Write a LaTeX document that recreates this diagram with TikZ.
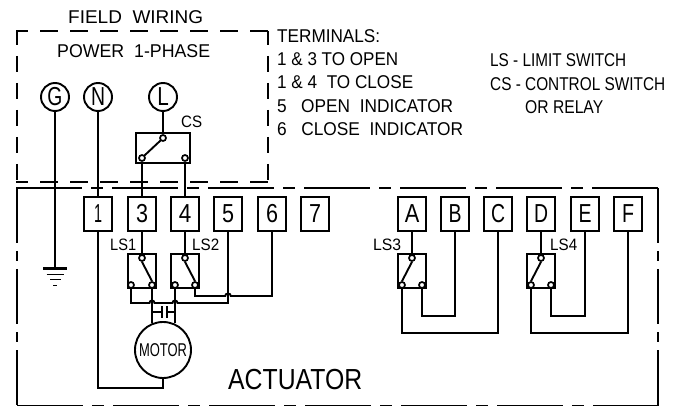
\documentclass[tikz,border=0pt]{standalone}
\usepackage{fontspec}
\usepackage{graphicx}
\setmainfont{Liberation Sans}
\newcommand{\fw}[2]{\resizebox{#1pt}{\height}{#2}}
\tikzset{
  wire/.style={line width=1.9pt,line cap=butt,line join=miter},
  txt/.style={inner sep=0pt,anchor=base west,font=\fontsize{18.5}{20}\selectfont},
  lbl/.style={inner sep=0pt,anchor=base west,font=\fontsize{16.5}{18}\selectfont},
  term/.style={draw,line width=1.9pt,minimum width=28pt,minimum height=34pt,inner sep=0pt,font=\fontsize{26}{27}\selectfont},
  swbox/.style={draw,line width=1.9pt,minimum width=28pt,minimum height=34pt,inner sep=0pt},
  bigc/.style={draw,circle,line width=1.9pt,minimum size=28pt,inner sep=0pt,font=\fontsize{26}{27}\selectfont},
  contact/.style={draw,circle,line width=1.7pt,minimum size=6pt,inner sep=0pt,fill=white},
  fbh/.style={line width=1.9pt,dash pattern=on 18pt off 12pt,dash phase=6pt},
  fbv/.style={line width=1.9pt,dash pattern=on 16pt off 11pt,dash phase=2pt},
  abh/.style={line width=1.8pt,dash pattern=on 66pt off 9pt on 12pt off 9pt},
  abv/.style={line width=1.8pt,dash pattern=on 55pt off 8pt on 10pt off 8pt},
}
\begin{document}
\begin{tikzpicture}[x=1pt,y=-1pt]
\useasboundingbox (0,0) rectangle (683,406);
% dashed enclosures
\draw[fbh] (16,31) -- (269,31);
\draw[fbh] (16,182) -- (269,182);
\draw[fbv] (17,31) -- (17,183);
\draw[fbv] (268,31) -- (268,183);
\draw[abh] (16,188) -- (659,188);
\draw[abh] (17,405.5) -- (659,405.5);
\draw[abv] (17,188) -- (17,406);
\draw[abv] (658,188) -- (658,406);
% texts
\node[txt] (tfield) at (68,24) {\fw{135}{FIELD\ \ WIRING}};
\node[txt] (tpower) at (57,57.7) {\fw{153}{POWER\ \ 1-PHASE}};
\node[txt] (tt0) at (277,42.7) {\fw{103}{TERMINALS:}};
\node[txt] (tt1) at (277,66) {\fw{121}{1 \& 3 TO OPEN}};
\node[txt] (tt2) at (277,89) {\fw{136}{1 \& 4\ \ TO CLOSE}};
\node[txt] (tt3) at (277,113) {\fw{176}{5\ \ \ OPEN\ \ INDICATOR}};
\node[txt] (tt4) at (277,136) {\fw{186}{6\ \ \ CLOSE\ \ INDICATOR}};
\node[txt] (tl1) at (490,67) {\fw{136}{LS - LIMIT SWITCH}};
\node[txt] (tl2) at (490,91) {\fw{175}{CS - CONTROL SWITCH}};
\node[txt] (tl3) at (525,114) {\fw{78}{OR RELAY}};
\node[txt,font=\fontsize{29}{31}\selectfont] (tact) at (228,389) {\fw{134}{ACTUATOR}};
\node[lbl] (lcs) at (181,128) {\fw{21}{CS}};
\node[lbl] (l1) at (110,251) {\fw{26}{LS1}};
\node[lbl] (l2) at (192,251) {\fw{27}{LS2}};
\node[lbl] (l3) at (373,251) {\fw{28}{LS3}};
\node[lbl] (l4) at (550,251) {\fw{27}{LS4}};
% power circles
\node[bigc] (G) at (55,97) {\fw{15}{G}};
\node[bigc] (N) at (98,97) {\fw{14}{N}};
\node[bigc] (L) at (163,97) {\fw{11.5}{L}};
% terminals
\foreach \n/\x/\t/\w in {t1/98/1/8,t3/142/3/12,t4/185/4/12.5,t5/228/5/12,t6/272/6/12,t7/315/7/12,
  tA/412/A/14.5,tB/455/B/13,tC/498/C/14,tD/541/D/14,tE/585/E/13,tF/628/F/12}
  \node[term] (\n) at (\x,214) {\fw{\w}{\t}};
% switch boxes
\node[swbox,minimum width=54pt,minimum height=30pt] (cs) at (163,148) {};
\node[swbox] (ls1) at (142,271) {};
\node[swbox] (ls2) at (185,271) {};
\node[swbox] (ls3) at (412,271) {};
\node[swbox] (ls4) at (541,271) {};
% contacts
\node[contact] (cst) at (163,138) {};
\node[contact] (csl) at (142,158) {};
\node[contact] (csr) at (185,158) {};
\node[contact] (a1t) at (142,258) {};
\node[contact] (a1l) at (131,285) {};
\node[contact] (a1r) at (152,285) {};
\node[contact] (a2t) at (185,258) {};
\node[contact] (a2l) at (175,285) {};
\node[contact] (a2r) at (195,285) {};
\node[contact] (a3t) at (412,258) {};
\node[contact] (a3l) at (402,285) {};
\node[contact] (a3r) at (422,285) {};
\node[contact] (a4t) at (541,258) {};
\node[contact] (a4l) at (531,285) {};
\node[contact] (a4r) at (551,285) {};
% motor
\node[draw,circle,line width=1.9pt,minimum size=56pt,inner sep=0pt,font=\fontsize{18.5}{20}\selectfont] (M) at (163,350) {\fw{48}{MOTOR}};
% ground
\coordinate (gnd) at (55,268.5);
\draw[line width=2.8pt] (43,268.5) -- (67,268.5);
\draw[line width=1.8pt] (46.5,274.5) -- (63.5,274.5);
\draw[line width=1.8pt] (50,279.5) -- (61,279.5);
\draw[line width=1.8pt] (53,285.5) -- (57,285.5);
% wires
\draw[wire] (G.south) -- (gnd);
\draw[wire] (N.south) -- (t1.north);
\draw[wire] (L.south) -- (cst.north);
\draw[wire] (csl.south) -- (t3.north);
\draw[wire] (csr.south) -- (t4.north);
\draw[wire] (cst.south west) -- (csl.north east);
\draw[wire] (t3.south) -- (a1t.north);
\draw[wire] (t4.south) -- (a2t.north);
\draw[wire] (tA.south) -- (a3t.north);
\draw[wire] (tD.south) -- (a4t.north);
\draw[wire] (a1t.south) -- (a1r.north);
\draw[wire] (a2t.south) -- (a2r.north);
\draw[wire] (a3t.south) -- (a3l.north);
\draw[wire] (a4t.south) -- (a4l.north);
% motor return
\draw[wire] (t1.south) -- (98,388) -- (163,388) -- (M.south);
% motor leads and capacitor
\coordinate (jm1) at (152,312);
\coordinate (jm2) at (175,312);
\draw[wire] (a1r.south) -- (a1r.south |- M.113);
\draw[wire] (a2l.south) -- (a2l.south |- M.67);
\draw[wire] (jm1) -- (162,312);
\draw[wire] (jm2) -- (167,312);
\draw[wire] (162,306) -- (162,318);
\draw[wire] (167,306) -- (167,318);
% indicator wires with hops
\draw[wire] (a1l.south) -- (131,303) -- (149.5,303)
  .. controls (149.5,299.7) and (154.5,299.7) .. (154.5,303) -- (172.5,303)
  .. controls (172.5,299.7) and (177.5,299.7) .. (177.5,303) -- (228,303) -- (t5.south);
\draw[wire] (a2r.south) -- (195,296) -- (225.2,296)
  .. controls (225.2,292.7) and (230.8,292.7) .. (230.8,296) -- (272,296) -- (t6.south);
% limit switch wiring
\draw[wire] (a3l.south) -- (402,333) -- (498,333) -- (tC.south);
\draw[wire] (a3r.south) -- (422,316) -- (455,316) -- (tB.south);
\draw[wire] (a4l.south) -- (531,333) -- (628,333) -- (tF.south);
\draw[wire] (a4r.south) -- (551,316) -- (585,316) -- (tE.south);
\end{tikzpicture}
\end{document}
